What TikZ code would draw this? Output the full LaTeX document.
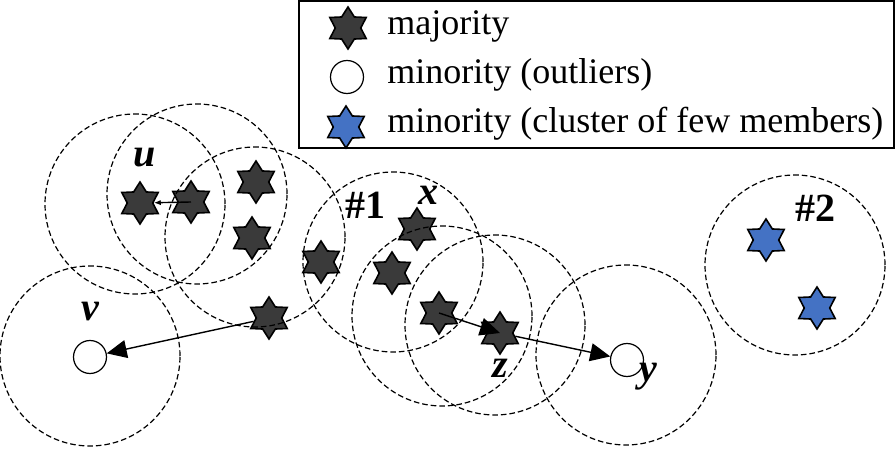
\documentclass[tikz,border=0pt]{standalone}
\usepackage{fontspec}
\setmainfont{Liberation Serif}
\usetikzlibrary{shapes.geometric,arrows.meta}
\definecolor{majgray}{RGB}{58,58,58}
\definecolor{fewblue}{RGB}{68,114,196}
\begin{document}
\begin{tikzpicture}[x=0.5pt,y=-0.5pt,
  maj/.style={star,star points=6,star point ratio=1.65,minimum size=21pt,inner sep=0pt,draw,line width=0.8pt,fill=majgray},
  few/.style={maj,fill=fewblue},
  lone/.style={circle,draw,line width=0.6pt,fill=white,minimum size=16.5pt,inner sep=0pt},
  hood/.style={circle,draw,dash pattern=on 2.8pt off 1.5pt,line width=0.6pt,minimum size=90pt,inner sep=0pt},
  lab/.style={font=\fontsize{20}{22}\selectfont\bfseries\itshape},
  num/.style={font=\fontsize{20}{22}\selectfont\bfseries},
  txt/.style={anchor=base west,inner sep=0pt,font=\fontsize{18}{21}\selectfont},
  arr/.style={line width=0.7pt,-{Triangle[length=10pt,width=9pt]}}]
 \useasboundingbox (0,0) rectangle (896,449);
 % legend
 \draw[line width=0.7pt] (299,1) rectangle (894,148);
 \node[maj] (kmaj) at (348,28) {};
 \node[txt] (tmaj) at (387,35) {majority};
 \node[lone] (kout) at (347,77) {};
 \node[txt] (tout) at (387,84) {minority (outliers)};
 \node[few] (kfew) at (346,127) {};
 \node[txt] (tfew) at (387,133) {minority (cluster of few members)};
 % majority samples
 \node[maj] (s1) at (140,203) {};
 \node[maj] (s2) at (191,202) {};
 \node[maj] (s3) at (256,182) {};
 \node[maj] (s4) at (252,238) {};
 \node[maj] (s5) at (321,262) {};
 \node[maj] (s6) at (269,318) {};
 \node[maj] (s7) at (417,229) {};
 \node[maj] (s8) at (392,273) {};
 \node[maj] (s9) at (439,313) {};
 \node[maj] (s10) at (500,333) {};
 % minority samples
 \node[lone] (v) at (90,357) {};
 \node[lone] (y) at (627,360) {};
 \node[few] (b1) at (766,240) {};
 \node[few] (b2) at (817,308) {};
 % neighbourhoods
 \node[hood] (r1) at (135,204) {};
 \node[hood] (r2) at (197,194) {};
 \node[hood] (r3) at (255,237) {};
 \node[hood] (r4) at (393,262) {};
 \node[hood] (r5) at (442,316) {};
 \node[hood] (r6) at (495,325) {};
 \node[hood] (r7) at (626,355) {};
 \node[hood] (r8) at (90,356) {};
 \node[hood] (r9) at (795,265) {};
 % labels
 \node[lab] (lu) at (145,158) {u};
 \node[lab] (lv) at (90,312) {v};
 \node[lab] (lx) at (428,195) {x};
 \node[lab] (lz) at (500,368) {z};
 \node[lab] (ly) at (648,377) {y};
 \node[num] (n1) at (365,205) {\#1};
 \node[num] (n2) at (815,208) {\#2};
 % links
 \draw[line width=0.7pt,-{Latex[length=3.5pt]}] (s2.center) -- (s1);
 \draw[arr] (s6) -- (v);
 \draw[arr] (s9.center) -- (s10.center);
 \draw[arr] (s10) -- (y);
\end{tikzpicture}
\end{document}
